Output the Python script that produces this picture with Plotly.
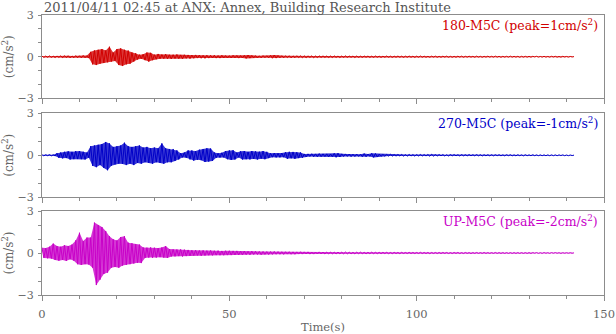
import plotly.graph_objects as go

# Sampling interval of the peak series (s); values are successive half-cycle peaks
DT = 0.5

title_text = "2011/04/11 02:45 at ANX: Annex, Building Research Institute"
labels = ["180-M5C (peak=1cm/s<sup>2</sup>)",
          "270-M5C (peak=-1cm/s<sup>2</sup>)",
          "UP-M5C (peak=-2cm/s<sup>2</sup>)"]
colors = ["#d10000", "#0000c8", "#c800c8"]
fills = ["rgba(209,0,0,0.78)", "rgba(0,0,200,0.78)", "rgba(200,0,200,0.78)"]

acc_180 = [
    0.04,-0.05,0.05,-0.04,0.06,-0.05,0.04,-0.06,0.05,-0.05,0.06,-0.07,0.08,-0.06,0.07,-0.08,0.06,-0.07,0.08,-0.07,
    0.07,-0.08,0.09,-0.07,0.08,-0.10,0.35,-0.55,0.45,-0.60,0.50,-0.50,0.55,-0.45,0.45,-0.40,0.72,-0.35,0.30,-0.30,
    0.55,-0.60,0.60,-0.67,0.50,-0.55,0.45,-0.50,0.30,-0.35,0.25,-0.20,0.15,-0.15,0.18,-0.25,0.30,-0.35,0.28,-0.25,
    0.15,-0.18,0.20,-0.15,0.16,-0.14,0.18,-0.15,0.14,-0.16,0.15,-0.13,0.16,-0.14,0.13,-0.15,0.14,-0.12,0.13,-0.14,
    0.12,-0.11,0.13,-0.10,0.12,-0.11,0.10,-0.12,0.11,-0.10,0.10,-0.09,0.11,-0.10,0.09,-0.10,0.10,-0.09,0.08,-0.09,
    0.08,-0.09,0.10,-0.08,0.09,-0.10,0.08,-0.09,0.10,-0.12,0.12,-0.10,0.09,-0.08,0.08,-0.09,0.07,-0.08,0.08,-0.07,
    0.07,-0.08,0.10,-0.11,0.12,-0.10,0.09,-0.08,0.07,-0.08,0.07,-0.06,0.07,-0.08,0.06,-0.07,0.07,-0.06,0.06,-0.07,
    0.06,-0.07,0.06,-0.05,0.06,-0.07,0.05,-0.06,0.06,-0.05,0.06,-0.05,0.05,-0.06,0.05,-0.06,0.06,-0.05,0.05,-0.06,
    0.05,-0.05,0.06,-0.05,0.05,-0.04,0.05,-0.06,0.05,-0.05,0.04,-0.05,0.05,-0.04,0.05,-0.05,0.04,-0.05,0.05,-0.04,
    0.04,-0.05,0.04,-0.04,0.05,-0.04,0.04,-0.05,0.04,-0.04,0.05,-0.04,0.04,-0.05,0.04,-0.04,0.05,-0.04,0.04,-0.05,
    0.04,-0.04,0.05,-0.04,0.04,-0.04,0.03,-0.04,0.04,-0.03,0.04,-0.04,0.03,-0.04,0.04,-0.03,0.04,-0.04,0.03,-0.04,
    0.03,-0.04,0.04,-0.03,0.04,-0.04,0.03,-0.03,0.04,-0.03,0.03,-0.04,0.04,-0.03,0.03,-0.04,0.03,-0.03,0.04,-0.03,
    0.03,-0.03,0.04,-0.03,0.03,-0.04,0.03,-0.03,0.03,-0.03,0.04,-0.03,0.03,-0.03,0.03,-0.04,0.03,-0.03,0.03,-0.03,
    0.03,-0.03,0.03,-0.02,0.03,-0.03,0.02,-0.03,0.03,-0.03,0.02,-0.03,0.03,-0.02,0.03,-0.03,0.02,-0.03,0.03,-0.02,
    0.02,-0.03,0.02,-0.02,0.01,
]

acc_270 = [
    0.03,-0.04,0.04,-0.03,0.05,-0.04,0.04,-0.05,0.15,-0.18,0.20,-0.22,0.25,-0.20,0.28,-0.30,0.25,-0.28,0.30,-0.27,
    0.30,-0.28,0.25,-0.30,0.20,-0.18,0.65,-0.75,0.70,-0.85,0.75,-0.70,0.80,-0.90,0.95,-1.07,0.85,-0.75,0.60,-0.65,
    0.65,-0.60,0.70,-0.62,0.90,-0.70,0.65,-0.60,0.60,-0.70,0.65,-0.55,0.70,-0.60,0.55,-0.50,0.60,-0.55,0.50,-0.60,
    0.55,-0.50,0.50,-0.55,0.85,-0.60,0.50,-0.50,0.45,-0.50,0.45,-0.40,0.35,-0.30,0.15,-0.15,0.20,-0.18,0.35,-0.30,
    0.35,-0.38,0.30,-0.32,0.40,-0.35,0.45,-0.48,0.50,-0.45,0.48,-0.40,0.20,-0.18,0.15,-0.16,0.18,-0.15,0.30,-0.28,
    0.35,-0.33,0.36,-0.30,0.20,-0.15,0.28,-0.30,0.30,-0.28,0.25,-0.30,0.30,-0.26,0.28,-0.30,0.26,-0.25,0.30,-0.28,
    0.25,-0.20,0.15,-0.14,0.16,-0.15,0.14,-0.15,0.16,-0.14,0.22,-0.25,0.25,-0.22,0.24,-0.25,0.22,-0.20,0.20,-0.18,
    0.10,-0.12,0.10,-0.09,0.11,-0.10,0.10,-0.11,0.12,-0.10,0.10,-0.09,0.10,-0.11,0.09,-0.10,0.14,-0.15,0.15,-0.12,
    0.10,-0.09,0.10,-0.08,0.09,-0.10,0.08,-0.09,0.09,-0.08,0.08,-0.10,0.12,-0.11,0.09,-0.08,0.14,-0.15,0.13,-0.12,
    0.08,-0.07,0.06,-0.07,0.06,-0.06,0.07,-0.06,0.05,-0.06,0.06,-0.05,0.06,-0.06,0.05,-0.06,0.06,-0.05,0.05,-0.06,
    0.05,-0.05,0.06,-0.05,0.05,-0.05,0.06,-0.07,0.07,-0.06,0.05,-0.05,0.05,-0.04,0.05,-0.05,0.04,-0.05,0.05,-0.04,
    0.05,-0.04,0.04,-0.05,0.05,-0.04,0.04,-0.04,0.05,-0.04,0.04,-0.04,0.05,-0.04,0.04,-0.05,0.04,-0.04,0.04,-0.04,
    0.04,-0.04,0.04,-0.03,0.04,-0.04,0.03,-0.04,0.04,-0.03,0.04,-0.04,0.03,-0.04,0.04,-0.03,0.03,-0.04,0.04,-0.03,
    0.03,-0.03,0.04,-0.03,0.03,-0.03,0.03,-0.03,0.03,-0.03,0.03,-0.03,0.03,-0.03,0.03,-0.03,0.03,-0.02,0.03,-0.03,
    0.02,-0.03,0.02,-0.02,0.01,
]

acc_up = [
    0.38,-0.35,0.35,-0.38,0.45,-0.40,0.67,-0.50,0.50,-0.55,0.45,-0.50,0.55,-0.57,0.50,-0.45,0.60,-0.55,0.90,-0.80,
    1.45,-0.85,0.85,-0.80,1.10,-0.83,1.10,-1.05,2.17,-2.29,2.00,-1.90,1.85,-1.50,1.57,-1.40,1.20,-1.05,0.98,-1.00,
    0.90,-1.05,1.14,-0.90,1.20,-0.85,0.74,-0.80,0.70,-0.75,0.62,-0.70,0.60,-0.72,0.40,-0.35,0.38,-0.33,0.40,-0.35,
    0.38,-0.33,0.35,-0.30,0.40,-0.33,0.50,-0.35,0.28,-0.25,0.26,-0.24,0.25,-0.22,0.26,-0.25,0.24,-0.22,0.22,-0.20,
    0.20,-0.18,0.20,-0.17,0.18,-0.20,0.19,-0.18,0.17,-0.16,0.18,-0.17,0.16,-0.15,0.17,-0.16,0.15,-0.16,0.16,-0.15,
    0.16,-0.15,0.15,-0.14,0.15,-0.14,0.13,-0.14,0.14,-0.12,0.12,-0.13,0.13,-0.11,0.12,-0.11,0.11,-0.12,0.11,-0.10,
    0.10,-0.11,0.10,-0.10,0.11,-0.09,0.10,-0.09,0.09,-0.10,0.09,-0.08,0.09,-0.09,0.08,-0.09,0.08,-0.08,0.09,-0.08,
    0.08,-0.07,0.08,-0.08,0.07,-0.08,0.07,-0.07,0.08,-0.07,0.07,-0.07,0.06,-0.07,0.07,-0.06,0.06,-0.07,0.07,-0.06,
    0.06,-0.06,0.07,-0.06,0.06,-0.06,0.05,-0.06,0.06,-0.05,0.06,-0.05,0.05,-0.06,0.05,-0.05,0.06,-0.05,0.05,-0.05,
    0.05,-0.05,0.05,-0.04,0.05,-0.05,0.04,-0.05,0.05,-0.04,0.04,-0.05,0.05,-0.04,0.04,-0.04,0.05,-0.04,0.04,-0.04,
    0.04,-0.04,0.05,-0.04,0.04,-0.04,0.04,-0.05,0.04,-0.04,0.04,-0.04,0.04,-0.04,0.04,-0.03,0.04,-0.04,0.03,-0.04,
    0.04,-0.03,0.04,-0.04,0.03,-0.04,0.04,-0.03,0.03,-0.04,0.03,-0.03,0.04,-0.03,0.03,-0.03,0.04,-0.03,0.03,-0.03,
    0.03,-0.03,0.04,-0.03,0.03,-0.03,0.03,-0.03,0.03,-0.03,0.03,-0.03,0.03,-0.03,0.03,-0.03,0.03,-0.03,0.03,-0.03,
    0.03,-0.03,0.03,-0.02,0.03,-0.03,0.02,-0.03,0.03,-0.02,0.02,-0.03,0.03,-0.02,0.03,-0.02,0.02,-0.03,0.02,-0.02,
    0.02,-0.02,0.02,-0.02,0.01,
]

series = [acc_180, acc_270, acc_up]
x_ticks_major = [0, 50, 100, 150]
y_tickvals = [-3, 0, 3]

FONT = "DejaVu Serif, serif"
LINE = "#8c8c8c"
TXT = "#666666"

domains = [(0.702, 1.0), (0.349, 0.649), (0.0, 0.300)]

fig = go.Figure()
for i, (vals, col, fc) in enumerate(zip(series, colors, fills)):
    n = i + 1
    xa = "x" if n == 1 else f"x{n}"
    ya = "y" if n == 1 else f"y{n}"
    t = [k * DT for k in range(len(vals))]
    # band between upper peaks and lower peaks
    fig.add_trace(go.Scatter(x=t[0::2], y=vals[0::2], mode="lines",
                             line=dict(color=col, width=0),
                             xaxis=xa, yaxis=ya, hoverinfo="skip", showlegend=False))
    fig.add_trace(go.Scatter(x=t[1::2], y=vals[1::2], mode="lines",
                             line=dict(color=col, width=0),
                             fill="tonexty", fillcolor=fc,
                             xaxis=xa, yaxis=ya, hoverinfo="skip", showlegend=False))
    # the oscillating trace itself
    fig.add_trace(go.Scatter(x=t, y=vals, mode="lines",
                             line=dict(color=col, width=1),
                             xaxis=xa, yaxis=ya, hoverinfo="skip", showlegend=False))

layout = dict(width=616, height=334,
              margin=dict(l=42, r=12, t=15, b=39, autoexpand=False),
              paper_bgcolor="white", plot_bgcolor="white",
              font=dict(family=FONT, color=TXT, size=12),
              showlegend=False)

for i in range(3):
    n = i + 1
    xk = "xaxis" if n == 1 else f"xaxis{n}"
    yk = "yaxis" if n == 1 else f"yaxis{n}"
    ya = "y" if n == 1 else f"y{n}"
    xa = "x" if n == 1 else f"x{n}"
    layout[xk] = dict(domain=[0, 1], anchor=ya, range=[0, 150],
                      tickvals=x_ticks_major, automargin=False,
                      showticklabels=(n == 3),
                      ticks="outside", ticklen=5, tickcolor=LINE, tickwidth=1,
                      ticklabelstandoff=3,
                      minor=dict(dtick=10, ticks="outside", ticklen=3, tickcolor=LINE),
                      showline=True, linecolor=LINE, linewidth=1, mirror=True,
                      showgrid=False, zeroline=False,
                      tickfont=dict(family=FONT, size=11.5, color=TXT))
    if n == 3:
        layout[xk]["title"] = dict(text="Time(s)",
                                   font=dict(family=FONT, size=11.5, color=TXT))
    layout[yk] = dict(domain=list(domains[i]), anchor=xa, range=[-3, 3],
                      tickvals=y_tickvals, automargin=False,
                      ticks="outside", ticklen=3, tickcolor=LINE,
                      ticklabelstandoff=2,
                      minor=dict(dtick=1, ticks="outside", ticklen=3, tickcolor=LINE),
                      showline=True, linecolor=LINE, linewidth=1, mirror=True,
                      showgrid=False, zeroline=False,
                      tickfont=dict(family=FONT, size=11, color=TXT),
                      title=dict(text="(cm/s<sup>2</sup>)",
                                 font=dict(family=FONT, size=12, color=TXT)))

annotations = [dict(text=title_text, xref="paper", yref="paper", x=0, y=1.0,
                    xanchor="left", yanchor="bottom", yshift=-2, showarrow=False,
                    font=dict(family=FONT, size=13, color="#555555"))]
for i, (lab, col) in enumerate(zip(labels, colors)):
    n = i + 1
    annotations.append(dict(text=lab,
                            xref=("x domain" if n == 1 else f"x{n} domain"),
                            yref=("y domain" if n == 1 else f"y{n} domain"),
                            x=0.993, y=0.88, xanchor="right", yanchor="middle",
                            showarrow=False,
                            font=dict(family=FONT, size=12.5, color=col)))
layout["annotations"] = annotations

fig.update_layout(**layout)
fig.write_html("out.html")
